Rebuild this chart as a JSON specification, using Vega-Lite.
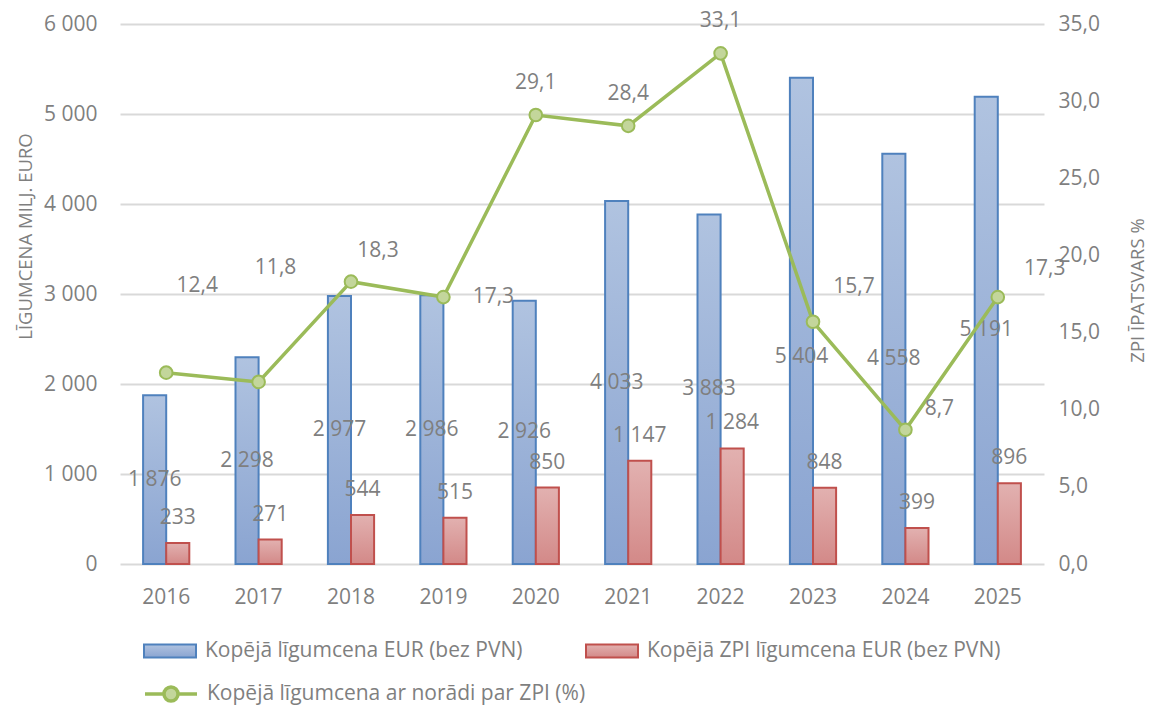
{
  "$schema": "https://vega.github.io/schema/vega-lite/v6.json",
  "width": 924,
  "height": 540,
  "autosize": {"type": "none"},
  "padding": {"left": 120, "top": 24, "right": 109, "bottom": 142},
  "background": "white",
  "config": {
    "view": {"stroke": null},
    "font": "Open Sans",
    "axis": {"labelFont": "Open Sans", "titleFont": "Open Sans", "labelColor": "#7f7f7f", "titleColor": "#7f7f7f", "labelFontSize": 21, "titleFontSize": 18.5, "titleFontWeight": "normal"},
    "legend": {"title": null, "orient": "none", "padding": 0, "symbolSize": 2704, "labelFont": "Open Sans", "labelFontSize": 21, "labelColor": "#7f7f7f", "labelOffset": 8, "labelLimit": 700}
  },
  "data": {
    "values": [
      {"year": "2016", "total": 1876, "zpi": 233, "pct": 12.4},
      {"year": "2017", "total": 2298, "zpi": 271, "pct": 11.8},
      {"year": "2018", "total": 2977, "zpi": 544, "pct": 18.3},
      {"year": "2019", "total": 2986, "zpi": 515, "pct": 17.3},
      {"year": "2020", "total": 2926, "zpi": 850, "pct": 29.1},
      {"year": "2021", "total": 4033, "zpi": 1147, "pct": 28.4},
      {"year": "2022", "total": 3883, "zpi": 1284, "pct": 33.1},
      {"year": "2023", "total": 5404, "zpi": 848, "pct": 15.7},
      {"year": "2024", "total": 4558, "zpi": 399, "pct": 8.7},
      {"year": "2025", "total": 5191, "zpi": 896, "pct": 17.3}
    ]
  },
  "encoding": {
    "x": {
      "field": "year", "type": "nominal", "title": null,
      "scale": {"paddingInner": 0.5, "paddingOuter": 0.25},
      "axis": {"labelAngle": 0, "ticks": false, "domain": false, "labelPadding": 22, "grid": false}
    }
  },
  "layer": [
    {
      "transform": [
        {"fold": ["total", "zpi"], "as": ["series", "value"]},
        {"calculate": "replace(format(datum.value, ',d'), ',', ' ')", "as": "lbl"},
        {"calculate": "datum.value / 2", "as": "mid"}
      ],
      "encoding": {
        "xOffset": {"field": "series", "type": "nominal", "scale": {"domain": ["total", "zpi"], "paddingInner": 0, "paddingOuter": 0}},
        "y": {
          "field": "value", "type": "quantitative", "title": "LĪGUMCENA MILJ. EURO",
          "scale": {"domain": [0, 6000]},
          "axis": {"orient": "left", "values": [0, 1000, 2000, 3000, 4000, 5000, 6000], "grid": true, "gridColor": "#d9d9d9", "gridWidth": 2, "domain": false, "ticks": false, "labelPadding": 23, "labelExpr": "replace(format(datum.value, ',d'), ',', ' ')", "titleX": -95, "titleY": 212, "titleAngle": 270, "titleAlign": "center", "titleBaseline": "middle"}
        }
      },
      "layer": [
        {
          "transform": [{"filter": "datum.series === 'total'"}],
          "mark": {"type": "bar", "strokeWidth": 2, "fill": {"gradient": "linear", "x1": 0, "y1": 0, "x2": 0, "y2": 1, "stops": [{"offset": 0, "color": "#b0c3e0"}, {"offset": 1, "color": "#8aa4d1"}]}},
          "encoding": {
            "stroke": {
              "datum": "Kopējā līgumcena EUR (bez PVN)", "type": "nominal",
              "scale": {"range": ["#4f81bd"]},
              "legend": {"legendX": 23, "legendY": 600, "symbolType": "M-1,-0.25H1V0.25H-1Z", "symbolStrokeWidth": 2}
            }
          }
        },
        {
          "transform": [{"filter": "datum.series === 'zpi'"}],
          "mark": {"type": "bar", "strokeWidth": 2, "fill": {"gradient": "linear", "x1": 0, "y1": 0, "x2": 0, "y2": 1, "stops": [{"offset": 0, "color": "#e2b1b0"}, {"offset": 1, "color": "#d38988"}]}},
          "encoding": {
            "stroke": {
              "datum": "Kopējā ZPI līgumcena EUR (bez PVN)", "type": "nominal",
              "scale": {"range": ["#c0504d"]},
              "legend": {"legendX": 465, "legendY": 600, "symbolType": "M-1,-0.25H1V0.25H-1Z", "symbolStrokeWidth": 2}
            }
          }
        },
        {
          "transform": [{"filter": "datum.series === 'total' && datum.year !== '2023'"}],
          "mark": {"type": "text", "fontSize": 21, "color": "#7f7f7f", "baseline": "middle"},
          "encoding": {
            "y": {"field": "mid", "type": "quantitative", "title": "LĪGUMCENA MILJ. EURO", "axis": {"orient": "left", "values": [0, 1000, 2000, 3000, 4000, 5000, 6000], "grid": true, "gridColor": "#d9d9d9", "gridWidth": 2, "domain": false, "ticks": false, "labelPadding": 23, "labelExpr": "replace(format(datum.value, ',d'), ',', ' ')", "titleX": -95, "titleY": 212, "titleAngle": 270, "titleAlign": "center", "titleBaseline": "middle"}},
            "text": {"field": "lbl"}
          }
        },
        {
          "transform": [{"filter": "datum.series === 'total' && datum.year === '2023'"}],
          "mark": {"type": "text", "fontSize": 21, "color": "#7f7f7f", "baseline": "middle", "dy": 36},
          "encoding": {
            "y": {"field": "mid", "type": "quantitative", "title": "LĪGUMCENA MILJ. EURO", "axis": {"orient": "left", "values": [0, 1000, 2000, 3000, 4000, 5000, 6000], "grid": true, "gridColor": "#d9d9d9", "gridWidth": 2, "domain": false, "ticks": false, "labelPadding": 23, "labelExpr": "replace(format(datum.value, ',d'), ',', ' ')", "titleX": -95, "titleY": 212, "titleAngle": 270, "titleAlign": "center", "titleBaseline": "middle"}},
            "text": {"field": "lbl"}
          }
        },
        {
          "transform": [{"filter": "datum.series === 'zpi'"}],
          "mark": {"type": "text", "fontSize": 21, "color": "#7f7f7f", "baseline": "middle", "dy": -25},
          "encoding": {"text": {"field": "lbl"}}
        }
      ],
      "resolve": {"scale": {"stroke": "independent"}, "legend": {"stroke": "independent"}}
    },
    {
      "transform": [{"calculate": "replace(format(datum.pct, '.1f'), '.', ',')", "as": "plbl"}],
      "encoding": {
        "y": {
          "field": "pct", "type": "quantitative", "title": "ZPI ĪPATSVARS %",
          "scale": {"domain": [0, 35]},
          "axis": {"orient": "right", "values": [0, 5, 10, 15, 20, 25, 30, 35], "grid": false, "domain": false, "ticks": false, "labelPadding": 14, "labelExpr": "replace(format(datum.value, '.1f'), '.', ',')", "titleX": 93, "titleY": 266, "titleAngle": 270, "titleAlign": "center", "titleBaseline": "middle"}
        }
      },
      "layer": [
        {
          "mark": {"type": "line", "strokeWidth": 3.5},
          "encoding": {
            "stroke": {
              "datum": "Kopējā līgumcena ar norādi par ZPI (%)", "type": "nominal",
              "scale": {"range": ["#9bbb59"]},
              "legend": {"legendX": 23, "legendY": 642, "symbolType": "M-1,0H-0.27M0.27,0H1M0.27,0A0.27,0.27 0 1,1 -0.27,0A0.27,0.27 0 1,1 0.27,0Z", "symbolStrokeWidth": 3.5, "symbolFillColor": "#c3d69b"}
            }
          }
        },
        {
          "mark": {"type": "point", "shape": "circle", "size": 160, "filled": true, "fill": "#c3d69b", "stroke": "#9bbb59", "strokeWidth": 2, "opacity": 1}
        },
        {"transform": [{"filter": "datum.year === '2016'"}], "mark": {"type": "text", "fontSize": 21, "color": "#7f7f7f", "dx": 31, "dy": -87}, "encoding": {"text": {"field": "plbl"}}},
        {"transform": [{"filter": "datum.year === '2017'"}], "mark": {"type": "text", "fontSize": 21, "color": "#7f7f7f", "dx": 17, "dy": -114}, "encoding": {"text": {"field": "plbl"}}},
        {"transform": [{"filter": "datum.year === '2018'"}], "mark": {"type": "text", "fontSize": 21, "color": "#7f7f7f", "dx": 27, "dy": -31}, "encoding": {"text": {"field": "plbl"}}},
        {"transform": [{"filter": "datum.year === '2019'"}], "mark": {"type": "text", "fontSize": 21, "color": "#7f7f7f", "dx": 50, "dy": 0}, "encoding": {"text": {"field": "plbl"}}},
        {"transform": [{"filter": "datum.year === '2020' || datum.year === '2021' || datum.year === '2022'"}], "mark": {"type": "text", "fontSize": 21, "color": "#7f7f7f", "dx": 0, "dy": -32}, "encoding": {"text": {"field": "plbl"}}},
        {"transform": [{"filter": "datum.year === '2023'"}], "mark": {"type": "text", "fontSize": 21, "color": "#7f7f7f", "dx": 41, "dy": -35}, "encoding": {"text": {"field": "plbl"}}},
        {"transform": [{"filter": "datum.year === '2024'"}], "mark": {"type": "text", "fontSize": 21, "color": "#7f7f7f", "dx": 34, "dy": -21}, "encoding": {"text": {"field": "plbl"}}},
        {"transform": [{"filter": "datum.year === '2025'"}], "mark": {"type": "text", "fontSize": 21, "color": "#7f7f7f", "dx": 47, "dy": -28}, "encoding": {"text": {"field": "plbl"}}}
      ]
    }
  ],
  "resolve": {"scale": {"y": "independent", "stroke": "independent"}, "legend": {"stroke": "independent"}}
}
